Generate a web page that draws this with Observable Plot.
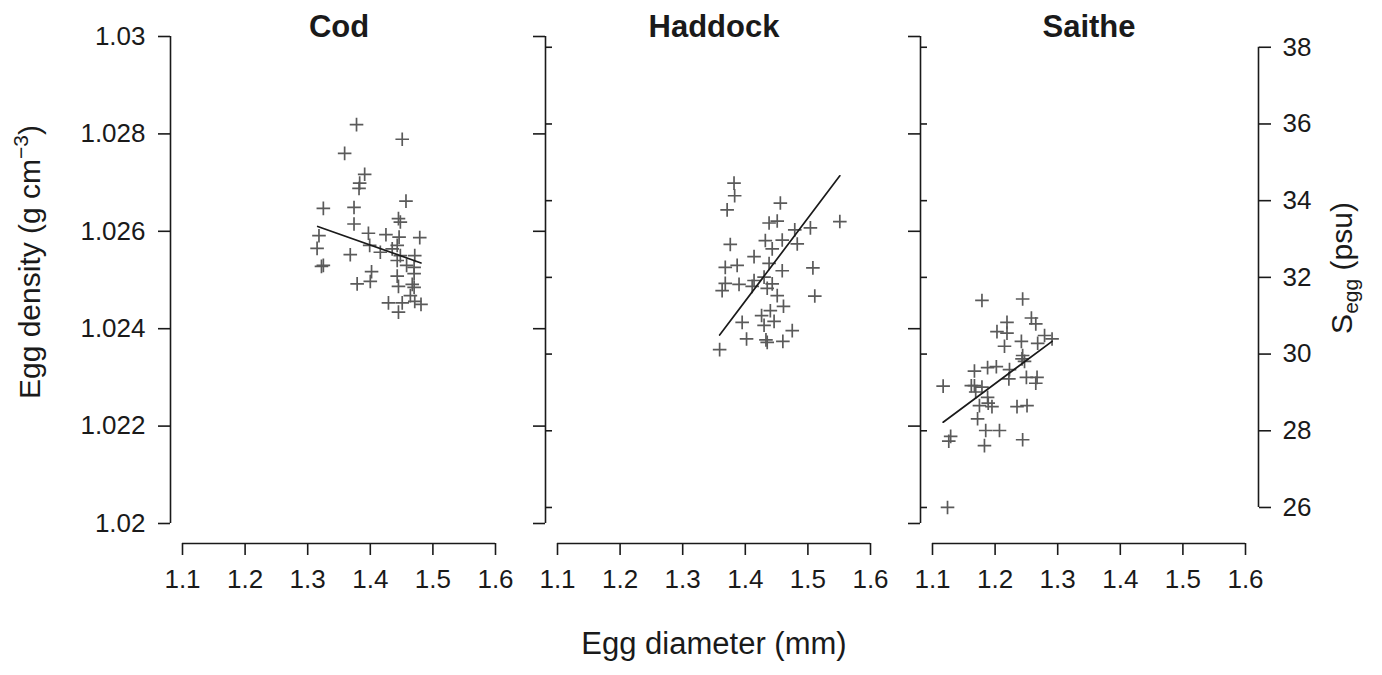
<!DOCTYPE html>
<html><head><meta charset="utf-8">
<script src="https://cdn.jsdelivr.net/npm/d3@7"></script>
<script src="https://cdn.jsdelivr.net/npm/@observablehq/plot@0.6"></script>
<style>
body{margin:0;background:#fff;}
#wrap{position:relative;width:1382px;height:675px;font-family:"Liberation Sans",Arial,Helvetica,sans-serif;color:#1a1a1a;overflow:hidden;}
#wrap svg{position:absolute;top:0;}
.lab{position:absolute;font-size:30px;white-space:nowrap;line-height:30px;}
.lab sup{font-size:70%;line-height:0;vertical-align:0.55em;}
.lab sub{font-size:70%;line-height:0;vertical-align:-0.3em;}
</style></head><body><div id="wrap"></div>
<script>
// ---- data ----
const species = ["Cod", "Haddock", "Saithe"];

const codDiameter = [1.378,1.451,1.359,1.391,1.383,1.382,1.457,1.325,1.374,1.445,1.448,1.374,1.318,1.397,1.425,1.446,1.479,1.315,1.399,1.416,1.435,1.443,1.368,1.448,1.471,1.443,1.322,1.325,1.458,1.470,1.402,1.470,1.443,1.379,1.400,1.445,1.467,1.470,1.464,1.429,1.451,1.471,1.481,1.445];
const codDensity = [1.02819,1.02789,1.02760,1.02717,1.02699,1.02688,1.02662,1.02647,1.02649,1.02626,1.02619,1.02615,1.02591,1.02596,1.02593,1.02588,1.02587,1.02565,1.02571,1.02557,1.02564,1.02571,1.02552,1.02550,1.02550,1.02540,1.02528,1.02530,1.02530,1.02526,1.02517,1.02513,1.02508,1.02492,1.02497,1.02487,1.02491,1.02485,1.02468,1.02453,1.02453,1.02456,1.02450,1.02434];

const haddockDiameter = [1.382,1.383,1.371,1.456,1.438,1.451,1.551,1.479,1.504,1.376,1.432,1.459,1.483,1.443,1.414,1.438,1.387,1.368,1.459,1.508,1.430,1.414,1.368,1.390,1.411,1.443,1.435,1.363,1.451,1.511,1.461,1.440,1.426,1.395,1.446,1.430,1.475,1.402,1.433,1.435,1.460,1.359];
const haddockDensity = [1.02699,1.02673,1.02644,1.02658,1.02617,1.02621,1.02620,1.02603,1.02607,1.02573,1.02581,1.02582,1.02574,1.02564,1.02548,1.02534,1.02530,1.02526,1.02519,1.02525,1.02506,1.02499,1.02493,1.02491,1.02487,1.02492,1.02483,1.02478,1.02468,1.02467,1.02446,1.02437,1.02427,1.02413,1.02415,1.02407,1.02396,1.02379,1.02377,1.02372,1.02374,1.02357];

const saitheDiameter = [1.179,1.244,1.258,1.265,1.219,1.203,1.219,1.279,1.291,1.242,1.268,1.215,1.244,1.243,1.247,1.188,1.202,1.167,1.223,1.222,1.250,1.267,1.265,1.117,1.167,1.179,1.169,1.188,1.175,1.189,1.195,1.235,1.251,1.172,1.185,1.207,1.129,1.126,1.244,1.183,1.124,1.162];
const saitheDensity = [1.02458,1.02461,1.02422,1.02410,1.02413,1.02394,1.02391,1.02386,1.02379,1.02374,1.02370,1.02364,1.02345,1.02338,1.02333,1.02320,1.02322,1.02313,1.02316,1.02297,1.02300,1.02300,1.02288,1.02282,1.02283,1.02280,1.02270,1.02259,1.02242,1.02247,1.02240,1.02240,1.02242,1.02215,1.02191,1.02191,1.02179,1.02169,1.02172,1.02160,1.02033,1.02283];

// fitted regression lines (end points)
const codFitX = [1.316, 1.481];      const codFitY = [1.02610, 1.02535];
const haddockFitX = [1.359, 1.551];  const haddockFitY = [1.02387, 1.02714];
const saitheFitX = [1.117, 1.291];   const saitheFitY = [1.02208, 1.02374];

// axes
const xTicks = [1.1, 1.2, 1.3, 1.4, 1.5, 1.6];
const yTicks = [1.02, 1.022, 1.024, 1.026, 1.028, 1.03];
const yTickLabels = ["1.02", "1.022", "1.024", "1.026", "1.028", "1.03"];
const sTicks = [26, 28, 30, 32, 34, 36, 38];
// egg salinity <-> density conversion used for the right-hand axis
const salinityIntercept = 0.999854;
const salinitySlope = 0.0007875;
const toDensity = s => salinityIntercept + salinitySlope * s;

const diameters = [codDiameter, haddockDiameter, saitheDiameter];
const densities = [codDensity, haddockDensity, saitheDensity];
const fitXs = [codFitX, haddockFitX, saitheFitX];
const fitYs = [codFitY, haddockFitY, saitheFitY];

// ---- drawing ----
const ink = "#1a1a1a";
const pointColor = "#5a5a5a";
const tickFont = 26;
const plusSymbol = {
  draw(ctx, size) {
    const r = Math.sqrt(size / Math.PI);
    ctx.moveTo(-r, 0); ctx.lineTo(r, 0);
    ctx.moveTo(0, -r); ctx.lineTo(0, r);
  }
};

const wrap = document.getElementById("wrap");

function panel(i) {
  const first = i === 0, last = i === 2;
  const pts = diameters[i].map((x, j) => ({x, y: densities[i][j]}));
  const fit = fitXs[i].map((x, j) => ({x, y: fitYs[i][j]}));
  const sDens = sTicks.map(toDensity);
  const marks = [
    Plot.ruleX([xTicks[0]], {y1: yTicks[0], y2: yTicks[yTicks.length - 1], dx: -12, stroke: ink, strokeWidth: 1.6}),
    Plot.ruleY([yTicks[0]], {x1: xTicks[0], x2: xTicks[xTicks.length - 1], dy: 20, stroke: ink, strokeWidth: 1.6}),
    Plot.axisX(xTicks, {tickSize: 12, tickPadding: 14, tickFormat: d => String(d), label: null, strokeWidth: 1.6, fontSize: tickFont}),
    Plot.axisY(yTicks, {anchor: "left", tickSize: 12, tickPadding: 13, fontSize: tickFont,
      tickFormat: first ? (d => yTickLabels[yTicks.indexOf(d)]) : (() => ""), label: null, strokeWidth: 1.6})
  ];
  if (!first) {
    marks.push(Plot.ruleY(sDens, {x1: xTicks[0], x2: xTicks[0], dx: -12, insetRight: -7, stroke: ink, strokeWidth: 1.6}));
  }
  if (last) {
    marks.push(Plot.ruleX([xTicks[xTicks.length - 1]], {y1: sDens[0], y2: sDens[sDens.length - 1], dx: 13, stroke: ink, strokeWidth: 1.6}));
    marks.push(Plot.axisY(sDens, {anchor: "right", tickSize: 12, tickPadding: 12, label: null, strokeWidth: 1.6, fontSize: tickFont,
      tickFormat: d => String(Math.round((d - salinityIntercept) / salinitySlope))}));
  }
  marks.push(Plot.dot(pts, {x: "x", y: "y", symbol: plusSymbol, r: 6.8, stroke: pointColor, strokeWidth: 1.7, fill: "none"}));
  marks.push(Plot.line(fit, {x: "x", y: "y", stroke: ink, strokeWidth: 1.7}));
  marks.push(Plot.text([species[i]], {x: () => (xTicks[0] + xTicks[xTicks.length - 1]) / 2, frameAnchor: "top",
    lineAnchor: "bottom", fontSize: 31, fontWeight: "bold", fill: ink}));

  const width = last ? 632 : 520;
  const svg = Plot.plot({
    width, height: 600,
    marginLeft: 170, marginRight: last ? 124 : 25, marginTop: 36, marginBottom: 57,
    x: {domain: [xTicks[0], xTicks[xTicks.length - 1]], insetLeft: 12, insetRight: last ? 13 : 0},
    y: {domain: [yTicks[0], yTicks[yTicks.length - 1]], insetBottom: 20},
    style: {fontFamily: '"Liberation Sans", Arial, Helvetica, sans-serif', fontSize: "26px", color: ink, background: "transparent", overflow: "visible"},
    marks
  });
  svg.style.left = (i * 375) + "px";
  svg.style.maxWidth = "none";
  wrap.appendChild(svg);
}
[0, 1, 2].forEach(panel);

function label(html, cx, cy, rotate, size) {
  const d = document.createElement("div");
  d.className = "lab";
  d.innerHTML = html;
  d.style.left = cx + "px";
  d.style.top = cy + "px";
  d.style.fontSize = size + "px";
  d.style.lineHeight = size + "px";
  d.style.transform = "translate(-50%,-50%)" + (rotate ? " rotate(-90deg)" : "");
  wrap.appendChild(d);
}
label("Egg diameter (mm)", 714, 643, false, 31);
label("Egg density (g cm<sup>\u22123</sup>)", 30, 262, true, 30);
label("S<sub>egg</sub> (psu)", 1342, 268, true, 30);
</script>
</body></html>
